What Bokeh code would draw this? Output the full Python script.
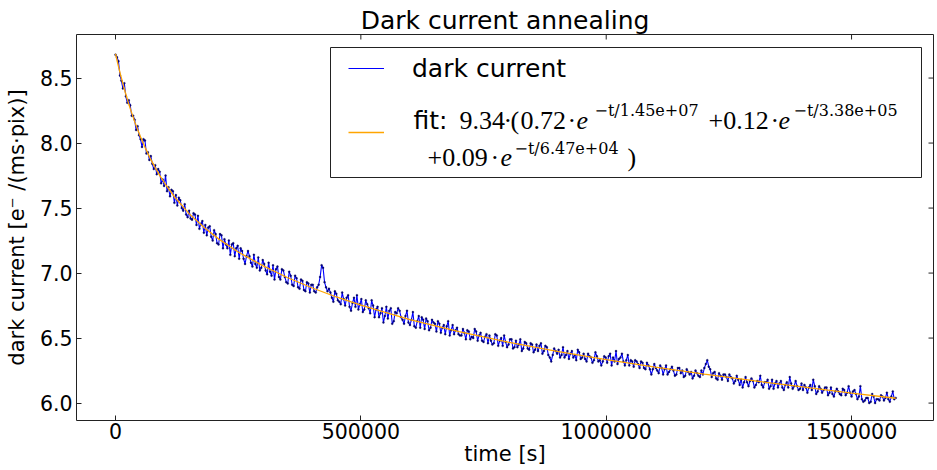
from bokeh.plotting import figure
from bokeh.models import (Range1d, FixedTicker, NumeralTickFormatter, PrintfTickFormatter,
                          BoxAnnotation, Legend, LegendItem, Label)
from bokeh.embed import file_html
from bokeh.resources import INLINE

# ---------------- data ----------------
# measurement samples, first set
time_ks_a = [
    0, 6, 12, 18, 24, 30, 36, 42, 48, 54, 60, 66, 72, 78, 84,
    90, 96, 102, 108, 114, 120, 126, 132, 138, 144, 150, 156, 162, 168, 174,
    180, 186, 192, 198, 204, 210, 216, 222, 228, 234, 240, 246, 252, 258, 264,
    270, 276, 282, 288, 294, 300, 306, 312, 318, 324, 330, 336, 342, 348, 354,
    360, 366, 372, 378, 384, 390, 396, 402, 408, 414, 420, 426, 432, 438, 444,
    450, 456, 462, 468, 474, 480, 486, 492, 498, 504, 510, 516, 522, 528, 534,
    540, 546, 552, 558, 564, 570, 576, 582, 588, 594, 600, 606, 612, 618, 624,
    630, 636, 642, 648, 654, 660, 666, 672, 678, 684, 690, 696, 702, 708, 714,
    720, 726, 732, 738, 744, 750, 756, 762, 768, 774, 780, 786, 792, 798, 804,
    810, 816, 822, 828, 834, 840, 846, 852, 858, 864, 870, 876, 882, 888, 894,
    900, 906, 912, 918, 924, 930, 936, 942, 948, 954, 960, 966, 972, 978, 984,
    990, 996, 1002, 1008, 1014, 1020, 1026, 1032, 1038, 1044, 1050, 1056, 1062, 1068, 1074,
    1080, 1086, 1092, 1098, 1104, 1110, 1116, 1122, 1128, 1134, 1140, 1146, 1152, 1158, 1164,
    1170, 1176, 1182, 1188, 1194, 1200, 1206, 1212, 1218, 1224, 1230, 1236, 1242, 1248, 1254,
    1260, 1266, 1272, 1278, 1284, 1290, 1296, 1302, 1308, 1314, 1320, 1326, 1332, 1338, 1344,
    1350, 1356, 1362, 1368, 1374, 1380, 1386, 1392, 1398, 1404, 1410, 1416, 1422, 1428, 1434,
    1440, 1446, 1452, 1458, 1464, 1470, 1476, 1482, 1488, 1494, 1500, 1506, 1512, 1518, 1524,
    1530, 1536, 1542, 1548, 1554, 1560, 1566, 1572, 1578, 1584, 1590,
]
dark_current_a = [
    8.68, 8.63, 8.48, 8.46, 8.31, 8.29, 8.21, 8.10, 8.06, 7.97, 8.02, 7.93, 7.90, 7.80, 7.76,
    7.78, 7.72, 7.75, 7.66, 7.64, 7.54, 7.52, 7.56, 7.48, 7.45, 7.48, 7.41, 7.45, 7.44, 7.38,
    7.31, 7.29, 7.36, 7.25, 7.30, 7.22, 7.29, 7.26, 7.19, 7.14, 7.23, 7.19, 7.11, 7.17, 7.07,
    7.17, 7.08, 7.14, 7.04, 7.02, 7.10, 7.02, 7.08, 6.98, 6.95, 7.05, 6.95, 7.02, 6.93, 7.01,
    6.91, 6.98, 6.89, 6.95, 6.87, 6.93, 6.85, 6.91, 6.85, 6.91, 7.06, 6.93, 6.86, 6.85, 6.78,
    6.84, 6.78, 6.85, 6.75, 6.83, 6.71, 6.81, 6.83, 6.76, 6.70, 6.79, 6.73, 6.79, 6.66, 6.74,
    6.69, 6.62, 6.74, 6.71, 6.61, 6.70, 6.73, 6.66, 6.61, 6.71, 6.60, 6.70, 6.58, 6.67, 6.66,
    6.57, 6.63, 6.58, 6.62, 6.55, 6.61, 6.58, 6.53, 6.63, 6.56, 6.53, 6.58, 6.52, 6.57, 6.49,
    6.55, 6.51, 6.57, 6.48, 6.54, 6.47, 6.53, 6.52, 6.45, 6.53, 6.44, 6.50, 6.52, 6.43, 6.49,
    6.42, 6.48, 6.45, 6.40, 6.47, 6.42, 6.46, 6.39, 6.45, 6.44, 6.38, 6.44, 6.37, 6.32, 6.42,
    6.38, 6.35, 6.43, 6.37, 6.34, 6.40, 6.37, 6.41, 6.34, 6.38, 6.32, 6.36, 6.31, 6.39, 6.32,
    6.29, 6.36, 6.31, 6.38, 6.35, 6.40, 6.34, 6.38, 6.29, 6.37, 6.33, 6.28, 6.32, 6.27, 6.31,
    6.26, 6.29, 6.22, 6.30, 6.25, 6.29, 6.22, 6.29, 6.24, 6.28, 6.21, 6.27, 6.23, 6.20, 6.26,
    6.22, 6.19, 6.25, 6.21, 6.25, 6.27, 6.33, 6.26, 6.23, 6.19, 6.23, 6.18, 6.22, 6.17, 6.20,
    6.15, 6.21, 6.14, 6.12, 6.20, 6.13, 6.19, 6.12, 6.17, 6.21, 6.12, 6.16, 6.11, 6.18, 6.15,
    6.12, 6.17, 6.10, 6.16, 6.20, 6.11, 6.17, 6.10, 6.15, 6.14, 6.08, 6.14, 6.18, 6.07, 6.13,
    6.08, 6.12, 6.06, 6.12, 6.05, 6.11, 6.07, 6.11, 6.06, 6.13, 6.05, 6.10, 6.03, 6.13, 6.01,
    6.04, 6.00, 6.07, 6.00, 6.03, 6.06, 6.02, 6.08, 6.01, 6.09, 6.04,
]
# measurement samples, second set (in between the first)
time_ks_b = [
    3, 9, 15, 21, 27, 33, 39, 45, 51, 57, 63, 69, 75, 81, 87,
    93, 99, 105, 111, 117, 123, 129, 135, 141, 147, 153, 159, 165, 171, 177,
    183, 189, 195, 201, 207, 213, 219, 225, 231, 237, 243, 249, 255, 261, 267,
    273, 279, 285, 291, 297, 303, 309, 315, 321, 327, 333, 339, 345, 351, 357,
    363, 369, 375, 381, 387, 393, 399, 405, 411, 417, 423, 429, 435, 441, 447,
    453, 459, 465, 471, 477, 483, 489, 495, 501, 507, 513, 519, 525, 531, 537,
    543, 549, 555, 561, 567, 573, 579, 585, 591, 597, 603, 609, 615, 621, 627,
    633, 639, 645, 651, 657, 663, 669, 675, 681, 687, 693, 699, 705, 711, 717,
    723, 729, 735, 741, 747, 753, 759, 765, 771, 777, 783, 789, 795, 801, 807,
    813, 819, 825, 831, 837, 843, 849, 855, 861, 867, 873, 879, 885, 891, 897,
    903, 909, 915, 921, 927, 933, 939, 945, 951, 957, 963, 969, 975, 981, 987,
    993, 999, 1005, 1011, 1017, 1023, 1029, 1035, 1041, 1047, 1053, 1059, 1065, 1071, 1077,
    1083, 1089, 1095, 1101, 1107, 1113, 1119, 1125, 1131, 1137, 1143, 1149, 1155, 1161, 1167,
    1173, 1179, 1185, 1191, 1197, 1203, 1209, 1215, 1221, 1227, 1233, 1239, 1245, 1251, 1257,
    1263, 1269, 1275, 1281, 1287, 1293, 1299, 1305, 1311, 1317, 1323, 1329, 1335, 1341, 1347,
    1353, 1359, 1365, 1371, 1377, 1383, 1389, 1395, 1401, 1407, 1413, 1419, 1425, 1431, 1437,
    1443, 1449, 1455, 1461, 1467, 1473, 1479, 1485, 1491, 1497, 1503, 1509, 1515, 1521, 1527,
    1533, 1539, 1545, 1551, 1557, 1563, 1569, 1575, 1581, 1587,
]
dark_current_b = [
    8.66, 8.52, 8.42, 8.36, 8.33, 8.21, 8.18, 8.13, 8.03, 8.03, 7.92, 7.87, 7.84, 7.83, 7.80,
    7.69, 7.67, 7.63, 7.59, 7.63, 7.60, 7.58, 7.50, 7.53, 7.43, 7.42, 7.46, 7.37, 7.34, 7.40,
    7.37, 7.35, 7.28, 7.33, 7.23, 7.30, 7.19, 7.22, 7.25, 7.22, 7.13, 7.21, 7.19, 7.11, 7.13,
    7.13, 7.05, 7.07, 7.12, 7.04, 7.07, 6.99, 7.01, 7.06, 7.03, 6.97, 7.03, 6.97, 6.92, 6.98,
    6.90, 6.96, 6.88, 6.94, 6.86, 6.92, 6.91, 6.86, 6.89, 6.97, 7.04, 6.89, 6.88, 6.81, 6.86,
    6.79, 6.76, 6.80, 6.81, 6.74, 6.77, 6.74, 6.72, 6.80, 6.72, 6.76, 6.69, 6.75, 6.72, 6.66,
    6.73, 6.67, 6.65, 6.73, 6.63, 6.69, 6.71, 6.64, 6.67, 6.62, 6.64, 6.59, 6.63, 6.58, 6.64,
    6.65, 6.56, 6.64, 6.61, 6.63, 6.54, 6.60, 6.59, 6.52, 6.60, 6.56, 6.53, 6.52, 6.54, 6.56,
    6.49, 6.50, 6.55, 6.52, 6.48, 6.51, 6.46, 6.48, 6.46, 6.52, 6.48, 6.44, 6.47, 6.45, 6.49,
    6.43, 6.43, 6.49, 6.42, 6.46, 6.41, 6.45, 6.41, 6.40, 6.46, 6.40, 6.43, 6.35, 6.37, 6.40,
    6.41, 6.37, 6.35, 6.40, 6.38, 6.35, 6.33, 6.39, 6.35, 6.34, 6.38, 6.35, 6.33, 6.36, 6.33,
    6.32, 6.35, 6.36, 6.29, 6.32, 6.30, 6.35, 6.32, 6.33, 6.29, 6.32, 6.33, 6.30, 6.32, 6.27,
    6.31, 6.26, 6.26, 6.27, 6.23, 6.27, 6.26, 6.22, 6.26, 6.25, 6.22, 6.27, 6.25, 6.21, 6.24,
    6.24, 6.21, 6.23, 6.20, 6.22, 6.30, 6.28, 6.20, 6.24, 6.18, 6.21, 6.22, 6.20, 6.22, 6.19,
    6.17, 6.18, 6.18, 6.16, 6.16, 6.17, 6.17, 6.14, 6.16, 6.14, 6.16, 6.18, 6.13, 6.11, 6.17,
    6.15, 6.12, 6.14, 6.12, 6.15, 6.13, 6.13, 6.11, 6.10, 6.12, 6.12, 6.10, 6.13, 6.09, 6.11,
    6.10, 6.12, 6.08, 6.07, 6.09, 6.09, 6.06, 6.10, 6.08, 6.08, 6.09, 6.07, 6.05, 6.03, 6.02,
    6.04, 6.01, 6.05, 6.03, 6.02, 6.05, 6.04, 6.03, 6.05, 6.03,
]

# fitted curve values
fit_time_ks = [0, 5, 10, 15, 20, 25, 30, 35, 40, 50, 60, 70, 80, 90, 100, 120, 150, 180, 210,
               250, 300, 350, 400, 450, 500, 600, 700, 800, 900, 1000, 1100, 1200, 1300,
               1400, 1500, 1590]
fit_values = [8.686, 8.605, 8.528, 8.457, 8.389, 8.325, 8.265, 8.209, 8.155, 8.056, 7.968,
              7.888, 7.817, 7.751, 7.692, 7.587, 7.457, 7.352, 7.263, 7.162, 7.057, 6.966,
              6.887, 6.816, 6.753, 6.642, 6.549, 6.469, 6.398, 6.335, 6.277, 6.223, 6.172,
              6.124, 6.077, 6.037]

x_ticks = [0, 500000, 1000000, 1500000]
y_ticks = [6.0, 6.5, 7.0, 7.5, 8.0, 8.5]

title_text = "Dark current annealing"
x_label = "time [s]"
y_label = "dark current [e\u207b /(ms\u00b7pix)]"
series_label = "dark current"

# ---------------- layout ----------------
X_START, X_END = -79500, 1667000
Y_START, Y_END = 5.866, 8.835
W, H = 937, 470
FL, FT, FR, FB = 76, 34, 933, 420   # frame edges in page pixels
X_PER_PX = (X_END - X_START) / (FR - FL)
Y_PER_PX = (Y_END - Y_START) / (FB - FT)


def dx(px):
    return X_START + (px - FL) * X_PER_PX


def dy(py):
    return Y_END - (py - FT) * Y_PER_PX


SANS = "DejaVu Sans"
SERIF = "Liberation Serif"
SUP_FONT = "DejaVu Serif"
TICK_SIZE = "20.5px"
LABEL_SIZE = "21px"
TICK_LEN = 5

p = figure(width=W, height=H,
           x_range=Range1d(X_START, X_END), y_range=Range1d(Y_START, Y_END),
           output_backend="svg", toolbar_location=None,
           min_border_left=FL, min_border_right=W - FR,
           min_border_top=FT, min_border_bottom=H - FB,
           title=title_text)

p.background_fill_color = "white"
p.border_fill_color = "white"
p.outline_line_color = "#222222"
p.outline_line_width = 1
p.xgrid.visible = False
p.ygrid.visible = False

p.title.align = "center"
p.title.text_font = SANS
p.title.text_font_size = "25px"
p.title.text_font_style = "normal"
p.title.text_color = "black"
p.title.standoff = 0


def style_axis(ax):
    ax.axis_line_color = None
    ax.major_tick_in = TICK_LEN
    ax.major_tick_out = 0
    ax.minor_tick_line_color = None
    ax.major_tick_line_color = "#222222"
    ax.major_label_text_font = SANS
    ax.major_label_text_font_size = TICK_SIZE
    ax.major_label_text_color = "black"
    ax.axis_label_text_font = SANS
    ax.axis_label_text_font_size = LABEL_SIZE
    ax.axis_label_text_font_style = "normal"
    ax.axis_label_text_color = "black"


xa = p.xaxis[0]
ya = p.yaxis[0]
style_axis(xa)
style_axis(ya)
xa.ticker = FixedTicker(ticks=x_ticks)
xa.formatter = NumeralTickFormatter(format="0")
xa.axis_label = x_label
xa.major_label_standoff = 2
xa.axis_label_standoff = 0
ya.ticker = FixedTicker(ticks=y_ticks)
ya.formatter = PrintfTickFormatter(format="%.1f")
ya.axis_label = y_label
ya.major_label_standoff = 4
ya.axis_label_standoff = 8

# inward ticks on the top and right edges of the frame (mirroring the axis ticks)
p.segment(x0=x_ticks, y0=[Y_END] * len(x_ticks),
          x1=x_ticks, y1=[Y_END - TICK_LEN * Y_PER_PX] * len(x_ticks),
          line_color="#222222", line_width=1)
p.segment(x0=[X_END] * len(y_ticks), y0=y_ticks,
          x1=[X_END - TICK_LEN * X_PER_PX] * len(y_ticks), y1=y_ticks,
          line_color="#222222", line_width=1)

# ---------------- data marks ----------------
samples = sorted(zip(time_ks_a + time_ks_b, dark_current_a + dark_current_b))
t_s = [t * 1000 for t, _ in samples]
dc = [v for _, v in samples]
fit_t_s = [t * 1000 for t in fit_time_ks]

data_line = p.line(t_s, dc, line_color="#0000ff", line_width=1.1)
p.scatter(t_s, dc, size=2, fill_color="#00008b", line_color="#000030",
          line_width=0.3)
fit_line = p.line(fit_t_s, fit_values, line_color="#ffa500", line_width=1.3)

# ---------------- legend ----------------
legend_box = BoxAnnotation(left=dx(330), right=dx(921), top=dy(47), bottom=dy(177),
                           fill_color="white", fill_alpha=1.0,
                           line_color="#222222", line_width=1, line_alpha=1.0)
p.add_layout(legend_box)

legend = Legend(items=[LegendItem(label=series_label, renderers=[data_line]),
                       LegendItem(label=" ", renderers=[fit_line])],
                location=(348 - FL, FB - 147), orientation="vertical",
                padding=0, margin=0, spacing=34,
                label_height=30, glyph_height=30, glyph_width=36, label_standoff=28,
                border_line_alpha=0, background_fill_alpha=0,
                label_text_font=SANS, label_text_font_size="25px",
                label_text_color="black")
p.add_layout(legend, "center")

# fit formula, typeset piece by piece (page-pixel positions of the reference)
SUP = "16px"
MAIN = "26px"
segments = [
    ("fit:", 413, 120, SANS, "25px", "normal"),
    ("9.34", 459, 120, SERIF, MAIN, "normal"),
    ("\u00b7", 503, 120, SERIF, MAIN, "normal"),
    ("(", 510, 120, SERIF, MAIN, "normal"),
    ("0.72", 520, 120, SERIF, MAIN, "normal"),
    ("\u00b7", 567, 120, SERIF, MAIN, "normal"),
    ("e", 576, 120, SERIF, MAIN, "italic"),
    ("\u2212t/1.45e+07", 594, 110, SUP_FONT, SUP, "normal"),
    ("+0.12", 708, 120, SERIF, MAIN, "normal"),
    ("\u00b7", 770, 120, SERIF, MAIN, "normal"),
    ("e", 778, 120, SERIF, MAIN, "italic"),
    ("\u2212t/3.38e+05", 793, 110, SUP_FONT, SUP, "normal"),
    ("+0.09", 427, 157, SERIF, MAIN, "normal"),
    ("\u00b7", 490, 157, SERIF, MAIN, "normal"),
    ("e", 500, 157, SERIF, MAIN, "italic"),
    ("\u2212t/6.47e+04", 514, 148, SUP_FONT, SUP, "normal"),
    (")", 627, 157, SERIF, MAIN, "normal"),
]
for text, px, py, font, size, style in segments:
    p.add_layout(Label(x=dx(px), y=dy(py), text=text, text_font=font,
                       text_font_size=size, text_font_style=style,
                       text_color="black", text_align="left",
                       text_baseline="alphabetic"))

open("out.html", "w").write(file_html(p, INLINE))
